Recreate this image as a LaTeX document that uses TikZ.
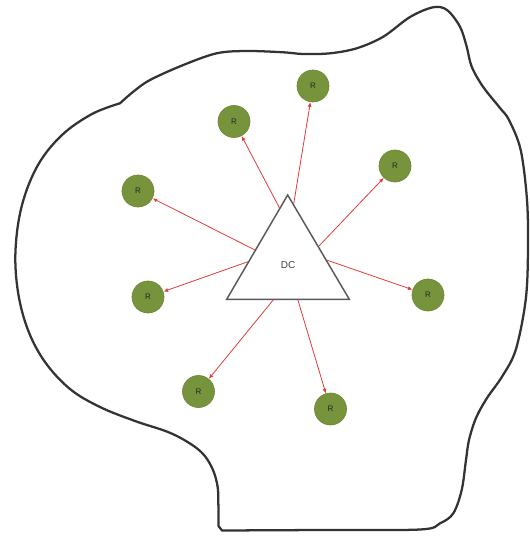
\documentclass[tikz,border=0pt]{standalone}
\usepackage{fontspec}
\setmainfont{Liberation Sans}
\usetikzlibrary{arrows.meta}
\definecolor{rgreen}{HTML}{77933C}
\definecolor{rgreenedge}{HTML}{6C8A38}
\definecolor{linkred}{HTML}{E23B3B}
\definecolor{blobgray}{HTML}{333333}
\definecolor{trigray}{HTML}{5A5A5A}
\begin{document}
\begin{tikzpicture}[x=0.75pt,y=-0.75pt,
  rnode/.style={circle, fill=rgreen, draw=rgreenedge, line width=0.5pt,
    minimum size=24pt, inner sep=0pt, font=\fontsize{6}{7}\selectfont, text=black!85},
  link/.style={draw=linkred, line width=0.6pt, -{Latex[length=3.5pt,width=3pt]}},
  blob/.style={draw=blobgray, line width=1.7pt, line join=round},
  tri/.style={draw=trigray, fill=white, line width=1.1pt, line join=miter},
  dctext/.style={font=\fontsize{7.5}{9}\selectfont, text=black!75}]
\useasboundingbox (0,0) rectangle (529,536);

% outline
\draw[blob] plot[smooth, tension=0.55] coordinates {(120,103.3) (133.3,91.7) (150,80) (183.3,65) (216.7,53.3) (246.7,51) (283.3,52.3) (303.3,54) (330,53.3) (356.7,48.3) (383.3,36.7) (410,17) (433,7.3) (447,10) (460,26.7) (466.7,46.7) (471.7,66.7) (483,86.7) (500,108) (509,120) (520.7,150) (527,200) (528,250) (525.7,300) (515.7,350) (502,376.7) (487,398) (476,418) (469,440) (466,460) (461.7,490) (453.3,513.3) (440,523.3) (420,529.5) (320,530) (222,530.5)}
 -- plot[smooth, tension=0.6] coordinates {(218.5,526) (218.3,500) (217.5,486) (213,470) (204,455) (190,443.5) (168,432) (135,421) (100,407) (70,389) (45,362) (28,330) (18,292) (15.5,250) (22,205) (38,165) (62,135) (92,114) (120,103.3)} -- cycle;

% R nodes
\node[rnode] (r1) at (313,86) {R};
\node[rnode] (r2) at (234,121.5) {R};
\node[rnode] (r3) at (138,191) {R};
\node[rnode] (r4) at (395,166) {R};
\node[rnode] (r5) at (148,297) {R};
\node[rnode] (r6) at (428,295) {R};
\node[rnode] (r7) at (198.5,391.5) {R};
\node[rnode] (r8) at (330.5,409) {R};

% start points on the triangle
\coordinate (s1) at (293.5,205);
\coordinate (s2) at (279.5,208);
\coordinate (s3) at (255,250);
\coordinate (s4) at (319,246);
\coordinate (s5) at (248.6,261.5);
\coordinate (s6) at (326.5,260);
\coordinate (s7) at (274,299);
\coordinate (s8) at (297.6,299);

\foreach \i in {1,...,8} \draw[link] (s\i) -- (r\i);

% DC triangle
\draw[tri] (287.7,195) -- (226.7,299.3) -- (349.3,299.3) -- cycle;
\node[dctext] (dc) at (288,265) {DC};
\end{tikzpicture}
\end{document}
